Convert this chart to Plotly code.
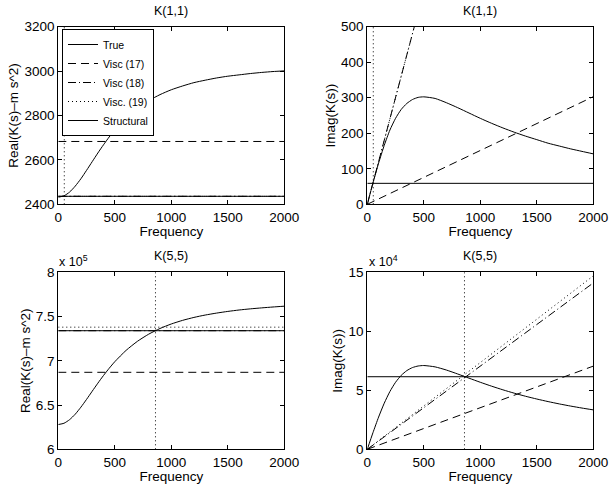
import plotly.graph_objects as go

# ---------------- data ----------------
freq = [0, 50, 100, 150, 200, 250, 300, 350, 400, 450, 500, 600, 700, 800, 900,
        1000, 1100, 1200, 1300, 1400, 1500, 1600, 1700, 1800, 1900, 2000]

k11_real_true = [2432, 2438, 2455, 2482, 2515, 2553, 2592, 2631, 2668, 2703, 2734,
                 2789, 2833, 2867, 2894, 2916, 2933, 2948, 2959, 2969, 2977, 2983,
                 2989, 2994, 2998, 3001]
k11_imag_true = [0, 60, 116, 166, 209, 242, 267, 284, 295, 301, 302.5, 298, 286,
                 272, 257, 242, 228, 215, 203, 192, 182, 172, 164, 156, 149, 142]
k55_real_true = [6.280e5, 6.294e5, 6.335e5, 6.397e5, 6.476e5, 6.564e5, 6.656e5,
                 6.747e5, 6.834e5, 6.915e5, 6.990e5, 7.118e5, 7.220e5, 7.301e5,
                 7.365e5, 7.416e5, 7.457e5, 7.490e5, 7.517e5, 7.539e5, 7.558e5,
                 7.574e5, 7.587e5, 7.598e5, 7.608e5, 7.617e5]
k55_imag_true = [0, 1.406e4, 2.731e4, 3.908e4, 4.896e4, 5.680e4, 6.265e4, 6.671e4,
                 6.927e4, 7.060e4, 7.100e4, 6.984e4, 6.717e4, 6.381e4, 6.029e4,
                 5.680e4, 5.349e4, 5.041e4, 4.757e4, 4.497e4, 4.260e4, 4.043e4,
                 3.844e4, 3.662e4, 3.495e4, 3.341e4]

f_ends = [0, 2000]
# approximations (values at f = 0 and f = 2000)
k11_real_visc17 = [2683, 2683]
k11_real_visc18 = [2436, 2436]
k11_real_visc19 = [2436, 2436]
k11_real_struct = [2436, 2436]
k11_imag_visc17 = [0, 303]
k11_imag_visc18 = [0, 2404]
k11_imag_visc19 = [0, 2404]
k11_imag_struct = [59, 59]

k55_real_visc17 = [6.87e5, 6.87e5]
k55_real_visc18 = [7.34e5, 7.34e5]
k55_real_visc19 = [7.38e5, 7.38e5]
k55_real_struct = [7.34e5, 7.34e5]
k55_imag_visc17 = [0, 7.05e4]
k55_imag_visc18 = [0, 14.1e4]
k55_imag_visc19 = [0, 14.7e4]
k55_imag_struct = [6.15e4, 6.15e4]

# matching frequency markers (vertical dotted lines)
k11_match_freq = 53
k55_match_freq = 860

x_ticks = [0, 500, 1000, 1500, 2000]
k11_real_ticks = [2400, 2600, 2800, 3000, 3200]
k11_imag_ticks = [0, 100, 200, 300, 400, 500]
k55_real_ticks = [6e5, 6.5e5, 7e5, 7.5e5, 8e5]
k55_real_ticktext = ["6", "6.5", "7", "7.5", "8"]
k55_imag_ticks = [0, 5e4, 10e4, 15e4]
k55_imag_ticktext = ["0", "5", "10", "15"]

legend_names = ["True", "Visc (17)", "Visc (18)", "Visc. (19)", "Structural"]
titles = ["K(1,1)", "K(1,1)", "K(5,5)", "K(5,5)"]

# ---------------- figure ----------------
W, H = 610, 491
FONT = "Liberation Sans, Arial, Helvetica, sans-serif"
FS = 13.5

# axes boxes in pixels: (left, right, top, bottom)
boxes = [(58.3, 284.3, 26.7, 204.3), (367.3, 593.3, 26.7, 204.3),
         (58.3, 284.3, 272.3, 449.3), (367.3, 593.3, 272.3, 449.3)]

fig = go.Figure()

DOT = "1px,3px"
styles = [dict(dash="solid", width=1), dict(dash="8px,5px", width=1),
          dict(dash="8px,3px,1px,3px", width=1), dict(dash=DOT, width=1),
          dict(dash="solid", width=1)]

panels = [
    (freq, k11_real_true, [k11_real_visc17, k11_real_visc18, k11_real_visc19, k11_real_struct],
     k11_match_freq, [2400, 3200]),
    (freq, k11_imag_true, [k11_imag_visc17, k11_imag_visc18, k11_imag_visc19, k11_imag_struct],
     k11_match_freq, [0, 500]),
    (freq, k55_real_true, [k55_real_visc17, k55_real_visc18, k55_real_visc19, k55_real_struct],
     k55_match_freq, [6e5, 8e5]),
    (freq, k55_imag_true, [k55_imag_visc17, k55_imag_visc18, k55_imag_visc19, k55_imag_struct],
     k55_match_freq, [0, 15e4]),
]

for i, (fx, ytrue, approx, fm, yr) in enumerate(panels):
    xa = "x" if i == 0 else f"x{i+1}"
    ya = "y" if i == 0 else f"y{i+1}"
    show = (i == 0)
    fig.add_trace(go.Scatter(x=fx, y=ytrue, mode="lines", name=legend_names[0],
                             line=dict(color="black", shape="spline", smoothing=0.6, **styles[0]),
                             xaxis=xa, yaxis=ya, showlegend=show))
    for j, yy in enumerate(approx):
        fig.add_trace(go.Scatter(x=f_ends, y=yy, mode="lines", name=legend_names[j + 1],
                                 line=dict(color="black", **styles[j + 1]),
                                 xaxis=xa, yaxis=ya, showlegend=show))
    fig.add_trace(go.Scatter(x=[fm, fm], y=yr, mode="lines", name="match",
                             line=dict(color="black", dash=DOT, width=1),
                             xaxis=xa, yaxis=ya, showlegend=False))

axis_common = dict(showline=True, linecolor="black", linewidth=1, mirror="ticks",
                   ticks="inside", ticklen=4, tickcolor="black", showgrid=False,
                   zeroline=False, automargin=False,
                   tickfont=dict(size=FS, color="black", family=FONT))

ytitles = ["Real(K(s)–m s^2)", "Imag(K(s))", "Real(K(s)–m s^2)", "Imag(K(s))"]
yranges = [[2400, 3200], [0, 500], [6e5, 8e5], [0, 15e4]]
ytickvals = [k11_real_ticks, k11_imag_ticks, k55_real_ticks, k55_imag_ticks]
yticktext = [[str(v) for v in k11_real_ticks], [str(v) for v in k11_imag_ticks],
             k55_real_ticktext, k55_imag_ticktext]

annotations = []
for i, (l, r, t, b) in enumerate(boxes):
    sx = "" if i == 0 else str(i + 1)
    xdom = [l / W, r / W]
    ydom = [1 - b / H, 1 - t / H]
    fig.update_layout(**{
        f"xaxis{sx}": dict(domain=xdom, range=[0, 2000], tickvals=x_ticks,
                           ticktext=[str(v) for v in x_ticks], anchor=f"y{sx}",
                           title=dict(text="Frequency", standoff=0,
                                      font=dict(size=FS, family=FONT, color="black")),
                           **axis_common),
        f"yaxis{sx}": dict(domain=ydom, range=yranges[i], tickvals=ytickvals[i],
                           ticktext=yticktext[i], anchor=f"x{sx}",
                           title=dict(text=ytitles[i], standoff=2,
                                      font=dict(size=FS, family=FONT, color="black")),
                           **axis_common),
    })
    annotations.append(dict(text=titles[i], x=(l + r) / 2 / W, y=1 - (t - 16) / H,
                            xref="paper", yref="paper", showarrow=False,
                            xanchor="center", yanchor="middle",
                            font=dict(size=12.5, family=FONT, color="black")))

annotations.append(dict(text="x 10<sup>5</sup>", x=57 / W, y=1 - 261 / H, xref="paper",
                        yref="paper", showarrow=False, xanchor="left", yanchor="middle",
                        font=dict(size=12.5, family=FONT, color="black")))
annotations.append(dict(text="x 10<sup>4</sup>", x=367 / W, y=1 - 261 / H, xref="paper",
                        yref="paper", showarrow=False, xanchor="left", yanchor="middle",
                        font=dict(size=12.5, family=FONT, color="black")))

fig.update_layout(
    width=W, height=H,
    margin=dict(l=0, r=0, t=0, b=0),
    paper_bgcolor="white", plot_bgcolor="white",
    font=dict(family=FONT, size=12, color="black"),
    annotations=annotations,
    legend=dict(x=62 / W, y=1 - 29 / H, xanchor="left", yanchor="top",
                bgcolor="white", bordercolor="black", borderwidth=1,
                font=dict(size=10.5, family=FONT, color="black"),
                tracegroupgap=0, itemwidth=30),
)

fig.write_html("out.html", config={"displayModeBar": False},
               post_script="document.body.style.margin='0px';document.body.style.padding='0px';")
